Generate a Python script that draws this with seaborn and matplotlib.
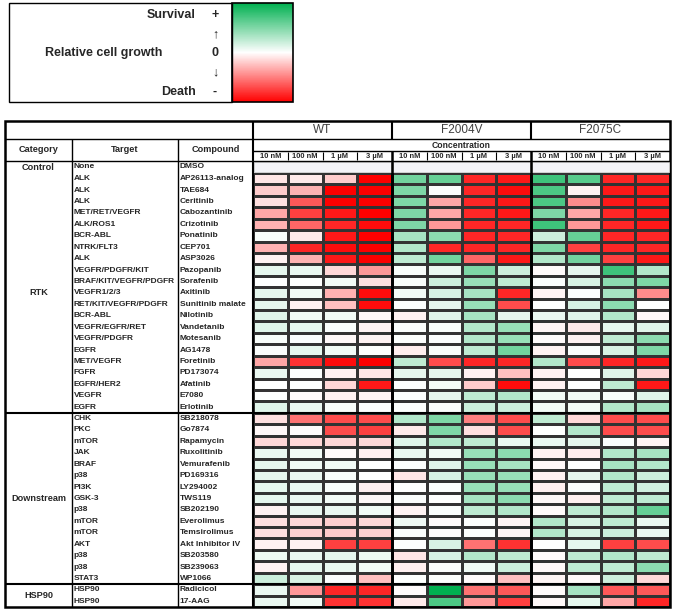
import numpy as np
import pandas as pd
import seaborn as sns
import matplotlib.pyplot as plt
from matplotlib.colors import LinearSegmentedColormap
from matplotlib.patches import Rectangle

sns.set_style('white')
plt.rcParams['font.family'] = ['Liberation Sans', 'DejaVu Sans']

# table data
categories = ['RTK'] * 21 + ['Downstream'] * 15 + ['HSP90'] * 2
targets = ['ALK', 'ALK', 'ALK', 'MET/RET/VEGFR', 'ALK/ROS1', 'BCR-ABL', 'NTRK/FLT3', 'ALK',
           'VEGFR/PDGFR/KIT', 'BRAF/KIT/VEGFR/PDGFR', 'VEGFR1/2/3', 'RET/KIT/VEGFR/PDGFR',
           'BCR-ABL', 'VEGFR/EGFR/RET', 'VEGFR/PDGFR', 'EGFR', 'MET/VEGFR', 'FGFR',
           'EGFR/HER2', 'VEGFR', 'EGFR',
           'CHK', 'PKC', 'mTOR', 'JAK', 'BRAF', 'p38', 'PI3K', 'GSK-3', 'p38', 'mTOR',
           'mTOR', 'AKT', 'p38', 'p38', 'STAT3',
           'HSP90', 'HSP90']
compounds = ['AP26113-analog', 'TAE684', 'Ceritinib', 'Cabozantinib', 'Crizotinib', 'Ponatinib',
             'CEP701', 'ASP3026', 'Pazopanib', 'Sorafenib', 'Axitinib', 'Sunitinib malate',
             'Nilotinib', 'Vandetanib', 'Motesanib', 'AG1478', 'Foretinib', 'PD173074',
             'Afatinib', 'E7080', 'Erlotinib',
             'SB218078', 'Go7874', 'Rapamycin', 'Ruxolitinib', 'Vemurafenib', 'PD169316',
             'LY294002', 'TWS119', 'SB202190', 'Everolimus', 'Temsirolimus', 'Akt Inhibitor IV',
             'SB203580', 'SB239063', 'WP1066',
             'Radicicol', '17-AAG']
concs = ['10 nM', '100 nM', '1 µM', '3 µM']
strains = ['WT', 'F2004V', 'F2075C']

# relative cell growth, -1 = death, +1 = survival
wt = [[-0.1, -0.08, -0.2, -1], [-0.2, -0.3, -1, -1], [-0.12, -0.65, -1, -1],
      [-0.35, -0.75, -0.9, -1], [-0.3, -0.6, -0.85, -0.95], [0.03, -0.08, -0.9, -1],
      [-0.3, -0.85, -0.95, -1], [-0.05, -0.3, -0.9, -1], [0.1, 0.08, -0.15, -0.4],
      [0, 0, 0.05, -0.12], [0.1, 0.05, -0.3, -0.95], [0.1, -0.05, -0.25, -0.95],
      [0.12, 0.05, 0.05, -0.03], [0.12, 0.1, 0.02, -0.05], [0.03, 0.02, -0.03, -0.05],
      [0.02, 0.1, 0.05, 0], [-0.35, -0.8, -0.95, -1], [0.08, 0.02, -0.05, -0.1],
      [0, 0.01, -0.15, -0.9], [0.01, -0.02, -0.05, -0.04], [0.12, 0.08, 0.03, 0.01],
      [-0.12, -0.55, -0.7, -0.7], [-0.03, -0.02, -0.7, -0.75], [-0.15, -0.15, -0.15, -0.15],
      [0.08, 0.05, -0.02, -0.06], [0.1, 0.06, 0.05, 0], [0.1, 0.08, 0.03, 0],
      [0.1, 0.08, 0.03, -0.06], [0.1, 0.08, 0.05, -0.03], [-0.05, 0.08, 0.08, 0.05],
      [-0.12, -0.15, -0.18, -0.15], [-0.12, -0.18, -0.2, -0.18], [-0.05, -0.05, -0.75, -0.75],
      [0.07, 0.08, 0.1, 0.07], [-0.05, 0.1, 0.08, 0.05], [0.2, 0.15, 0.02, -0.25],
      [0.08, -0.4, -0.85, -0.85], [0.08, 0.05, -0.8, -0.8]]
f2004v = [[0.55, 0.6, -0.85, -0.9], [0.5, 0.02, -0.85, -0.95], [0.5, -0.35, -0.85, -0.9],
          [0.5, -0.35, -0.85, -0.9], [0.5, -0.4, -0.85, -0.85], [0.35, 0.45, -0.85, -0.85],
          [0.3, -0.85, -0.85, -0.85], [0.25, 0.55, -0.6, -0.9], [0.03, 0.08, 0.5, 0.2],
          [0.03, 0.2, 0.4, 0.25], [0.05, 0.15, 0.35, -0.85], [0.02, 0.1, 0.4, -0.7],
          [-0.05, 0.12, 0.35, 0.1], [0.02, 0.03, 0.3, 0.4], [0.01, 0.02, 0.3, 0.4],
          [-0.07, 0.03, 0.25, 0.55], [0.25, -0.7, -0.85, -0.85], [0.1, 0.1, -0.05, -0.25],
          [0.02, 0.04, -0.2, -0.95], [0.02, 0.1, 0.25, 0.3], [0.01, 0.02, 0.2, 0.2],
          [0.3, 0.5, -0.5, -0.7], [-0.08, 0.5, -0.12, -0.7], [0.12, 0.3, 0.25, 0.08],
          [0.08, 0.05, 0.4, 0.45], [0.02, 0.12, 0.4, 0.35], [-0.1, 0.15, 0.4, 0.4],
          [0, 0.01, 0.4, 0.4], [0.02, 0, 0.35, 0.45], [-0.04, 0.02, 0.25, 0.3],
          [0.06, -0.02, 0.01, -0.04], [0.02, -0.02, 0.01, -0.04], [0.01, 0.15, -0.55, -0.8],
          [-0.1, 0.15, 0.3, 0.25], [-0.06, 0.02, 0.06, 0.2], [0, 0.01, -0.02, -0.25],
          [-0.02, 1.0, -0.55, -0.65], [-0.08, 0.7, -0.4, -0.75]]
f2075c = [[0.75, 0.65, -0.85, -0.85], [0.7, -0.05, -0.9, -0.9], [0.7, -0.45, -0.9, -0.9],
          [0.5, -0.35, -0.85, -0.9], [0.75, -0.4, -0.85, -0.9], [0.2, 0.6, -0.85, -0.85],
          [0.5, -0.75, -0.85, -0.85], [0.3, 0.55, -0.75, -0.9], [-0.02, 0.1, 0.75, 0.3],
          [0.02, 0.15, 0.45, 0.5], [-0.04, 0.02, 0.35, -0.45], [0, 0.15, 0.45, 0],
          [0.08, 0.12, 0.3, -0.03], [-0.04, -0.08, 0.1, 0.12], [-0.02, -0.05, 0.25, 0.45],
          [-0.05, 0.02, 0.15, 0.5], [0.3, -0.7, -0.85, -0.9], [-0.05, 0, 0.12, -0.15],
          [-0.05, 0, 0.25, -0.9], [0.05, 0.05, 0.03, 0.12], [0.05, 0.05, 0.3, 0.35],
          [0.25, -0.15, -0.7, -0.7], [0, 0.3, -0.7, -0.7], [0.08, 0.1, 0.02, -0.04],
          [-0.05, -0.07, 0.3, 0.35], [-0.03, 0, 0.35, 0.3], [-0.05, 0.1, 0.3, 0.2],
          [-0.06, 0.02, 0.25, 0.18], [-0.03, -0.06, 0.25, 0.25], [-0.02, 0.25, 0.3, 0.6],
          [0.3, 0.15, 0.25, 0.08], [0.3, 0.15, 0.2, 0.08], [0, 0.1, -0.75, -0.7],
          [-0.02, 0.25, 0.3, 0.25], [-0.03, 0.25, 0.25, 0.45], [-0.04, -0.02, 0.2, -0.15],
          [-0.02, 0.35, -0.65, -0.65], [-0.03, 0.1, -0.35, -0.85]]

cols = pd.MultiIndex.from_product([strains, concs])
df = pd.DataFrame(np.hstack([wt, f2004v, f2075c]), index=compounds, columns=cols)

cmap = LinearSegmentedColormap.from_list('growth', ['#FF0000', '#FFFFFF', '#00B050'])

W, H = 675, 612
fig = plt.figure(figsize=(W / 100, H / 100), dpi=100)

def fr(x0, y0, x1, y1):
    # pixel box -> figure fraction
    return [x0 / W, 1 - y1 / H, (x1 - x0) / W, (y1 - y0) / H]

# layout in pixels
tx0, tx1, ttop, tbot = 5, 670, 121, 607
xcat, xtgt, xcmp = 72, 178, 253
ydata = 173
nrow = len(compounds)
rh = (tbot - ydata) / nrow
gw = (tx1 - xcmp) / 3

hax = fig.add_axes(fr(xcmp, ydata, tx1, tbot))
cax = fig.add_axes(fr(232, 3, 293, 102))
sns.heatmap(df, ax=hax, cmap=cmap, vmin=-1, vmax=1, linewidths=1.0, linecolor='#333333',
            cbar_ax=cax, xticklabels=False, yticklabels=False)
hax.set_xlabel('')
hax.set_ylabel('')
for k in [4, 8]:
    hax.axvline(k, color='black', lw=1.8)
cax.set_yticks([])
cb = hax.collections[0].colorbar
cb.outline.set_edgecolor('black')
cb.outline.set_linewidth(1.2)

# overlay for the table frame and text, in pixels
ov = fig.add_axes([0, 0, 1, 1], zorder=5)
ov.set_xlim(0, W)
ov.set_ylim(H, 0)
ov.axis('off')
ov.patch.set_alpha(0)

def hline(y, x0, x1, lw=1.0):
    ov.plot([x0, x1], [y, y], color='black', lw=lw, solid_capstyle='butt')

def vline(x, y0, y1, lw=1.0):
    ov.plot([x, x], [y0, y1], color='black', lw=lw, solid_capstyle='butt')

# legend box
ov.add_patch(Rectangle((9, 3), 223, 99, fill=False, ec='black', lw=1.0))
lf = dict(fontsize=9, fontweight='bold', va='center')
ov.text(196, 15, 'Survival', ha='right', **lf)
ov.text(196, 92, 'Death', ha='right', **lf)
ov.text(45, 53, 'Relative cell growth', ha='left', **lf)
for y, s in zip([15, 34, 53, 72, 92], ['+', '↑', '0', '↓', '-']):
    ov.text(215, y, s, ha='center', **lf)

# table frame
ov.add_patch(Rectangle((tx0, ttop), tx1 - tx0, tbot - ttop, fill=False, ec='black', lw=1.8))
hline(139, tx0, tx1)
hline(161, tx0, tx1)
hline(151, xcmp, tx1)
vline(xcat, 139, tbot)
vline(xtgt, 139, tbot)
vline(xcmp, ttop, tbot, lw=1.5)
for g in range(1, 3):
    vline(xcmp + g * gw, ttop, 139, lw=1.5)
    vline(xcmp + g * gw, 151, tbot, lw=1.8)
for j in range(12):
    if j % 4:
        vline(xcmp + j * gw / 4, 152, 160, lw=0.8)

# control row bars
for g in range(3):
    ov.add_patch(Rectangle((xcmp + g * gw + 1, 162), gw - 2, 10, fc='#F3F3F7',
                           ec='#C8C8C8', lw=0.6))

# header text
for g, s in enumerate(strains):
    ov.text(xcmp + (g + 0.5) * gw, 130, s, ha='center', va='center', fontsize=8.5,
            color='#404040')
ov.text((xcmp + tx1) / 2, 145.5, 'Concentration', ha='center', va='center',
        fontsize=6.2, fontweight='bold')
for j in range(12):
    ov.text(xcmp + (j + 0.5) * gw / 4, 156, concs[j % 4], ha='center', va='center',
            fontsize=5.4, fontweight='bold')
hf = dict(ha='center', va='center', fontsize=6.6, fontweight='bold')
ov.text((tx0 + xcat) / 2, 150, 'Category', **hf)
ov.text((xcat + xtgt) / 2, 150, 'Target', **hf)
ov.text((xtgt + xcmp) / 2, 150, 'Compound', **hf)

rf = dict(va='center', fontsize=6.0, fontweight='bold')
cf = dict(va='center', fontsize=6.6, fontweight='bold')
ov.text((tx0 + xcat) / 2, 167, 'Control', ha='center', **cf)
ov.text(xcat + 1.5, 167, 'None', ha='left', **rf)
ov.text(xtgt + 1.5, 167, 'DMSO', ha='left', **rf)

for i in range(nrow):
    y = ydata + (i + 0.5) * rh
    ov.text(xcat + 1.5, y, targets[i], ha='left', **rf)
    ov.text(xtgt + 1.5, y, compounds[i], ha='left', **rf)

# category labels and separators
start = 0
for cat in ['RTK', 'Downstream', 'HSP90']:
    n = categories.count(cat)
    ov.text((tx0 + xcat) / 2, ydata + (start + n / 2) * rh, cat, ha='center', **cf)
    if start > 0:
        hline(ydata + start * rh, tx0, tx1, lw=1.5)
    start += n

fig.savefig('out.png', dpi=100)
